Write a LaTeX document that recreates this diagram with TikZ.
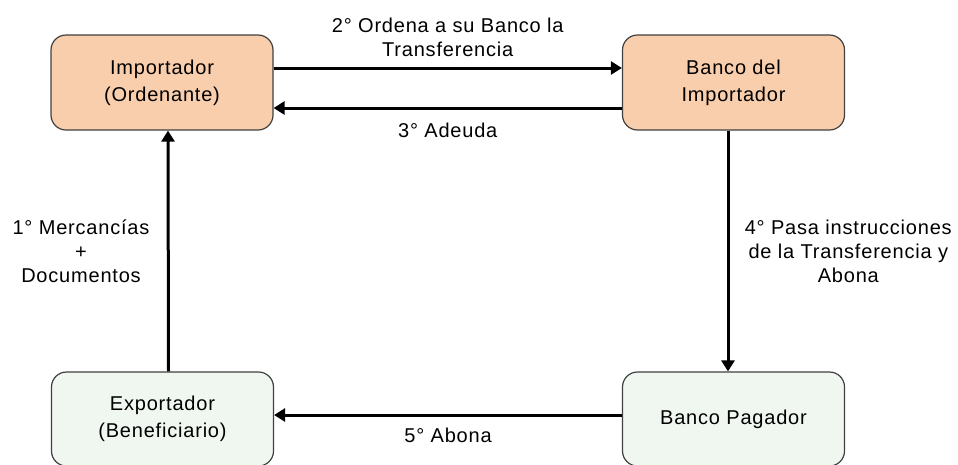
\documentclass[tikz,border=0pt]{standalone}
\usepackage{fontspec}
\setmainfont{Liberation Sans}[LetterSpace=4]
\usetikzlibrary{arrows.meta}
\definecolor{impfill}{RGB}{249,206,172}
\definecolor{expfill}{RGB}{240,247,240}
\definecolor{boxline}{RGB}{64,64,64}
\tikzset{
  box/.style={draw=boxline, line width=1.2pt, rounded corners=15pt, minimum width=222pt, minimum height=95pt, inner sep=0pt, align=center, font=\fontsize{20}{27}\selectfont},
  lbl/.style={align=center, font=\fontsize{20}{24}\selectfont},
  flow/.style={line width=3pt, -{Triangle[length=11pt,width=13pt]}}
}
\begin{document}
\begin{tikzpicture}[x=1pt,y=-1pt]
\useasboundingbox (0,0) rectangle (958,464);
\node [box, fill=impfill] (imp) at (162,82.5) {Importador\\(Ordenante)};
\node [box, fill=impfill] (bimp) at (733.5,82.5) {Banco del\\Importador};
\node [box, fill=expfill, minimum height=94pt] (exp) at (162.5,419) {Exportador\\(Beneficiario)};
\node [box, fill=expfill, minimum height=94pt] (bpag) at (733.5,419) {Banco Pagador};
\draw [flow] ([yshift=14.5pt]imp.east) -- ([yshift=14.5pt]bimp.west) node [lbl, midway, above=6pt] {2° Ordena a su Banco la\\Transferencia};
\draw [flow] ([yshift=-25.5pt]bimp.west) -- ([yshift=-25.5pt]imp.east) node [lbl, midway, below=10pt] {3° Adeuda};
\draw [flow] ([xshift=6pt]exp.north) -- ([xshift=6pt]imp.south) node [lbl, midway, left=14pt] {1° Mercancías\\+\\Documentos};
\draw [flow] ([xshift=-5.5pt]bimp.south) -- ([xshift=-5.5pt]bpag.north) node [lbl, midway, right=12pt] {4° Pasa instrucciones\\de la Transferencia y\\Abona};
\draw [flow] ([yshift=4pt]bpag.west) -- ([yshift=4pt]exp.east) node [lbl, midway, below=8pt] {5° Abona};
\end{tikzpicture}
\end{document}
